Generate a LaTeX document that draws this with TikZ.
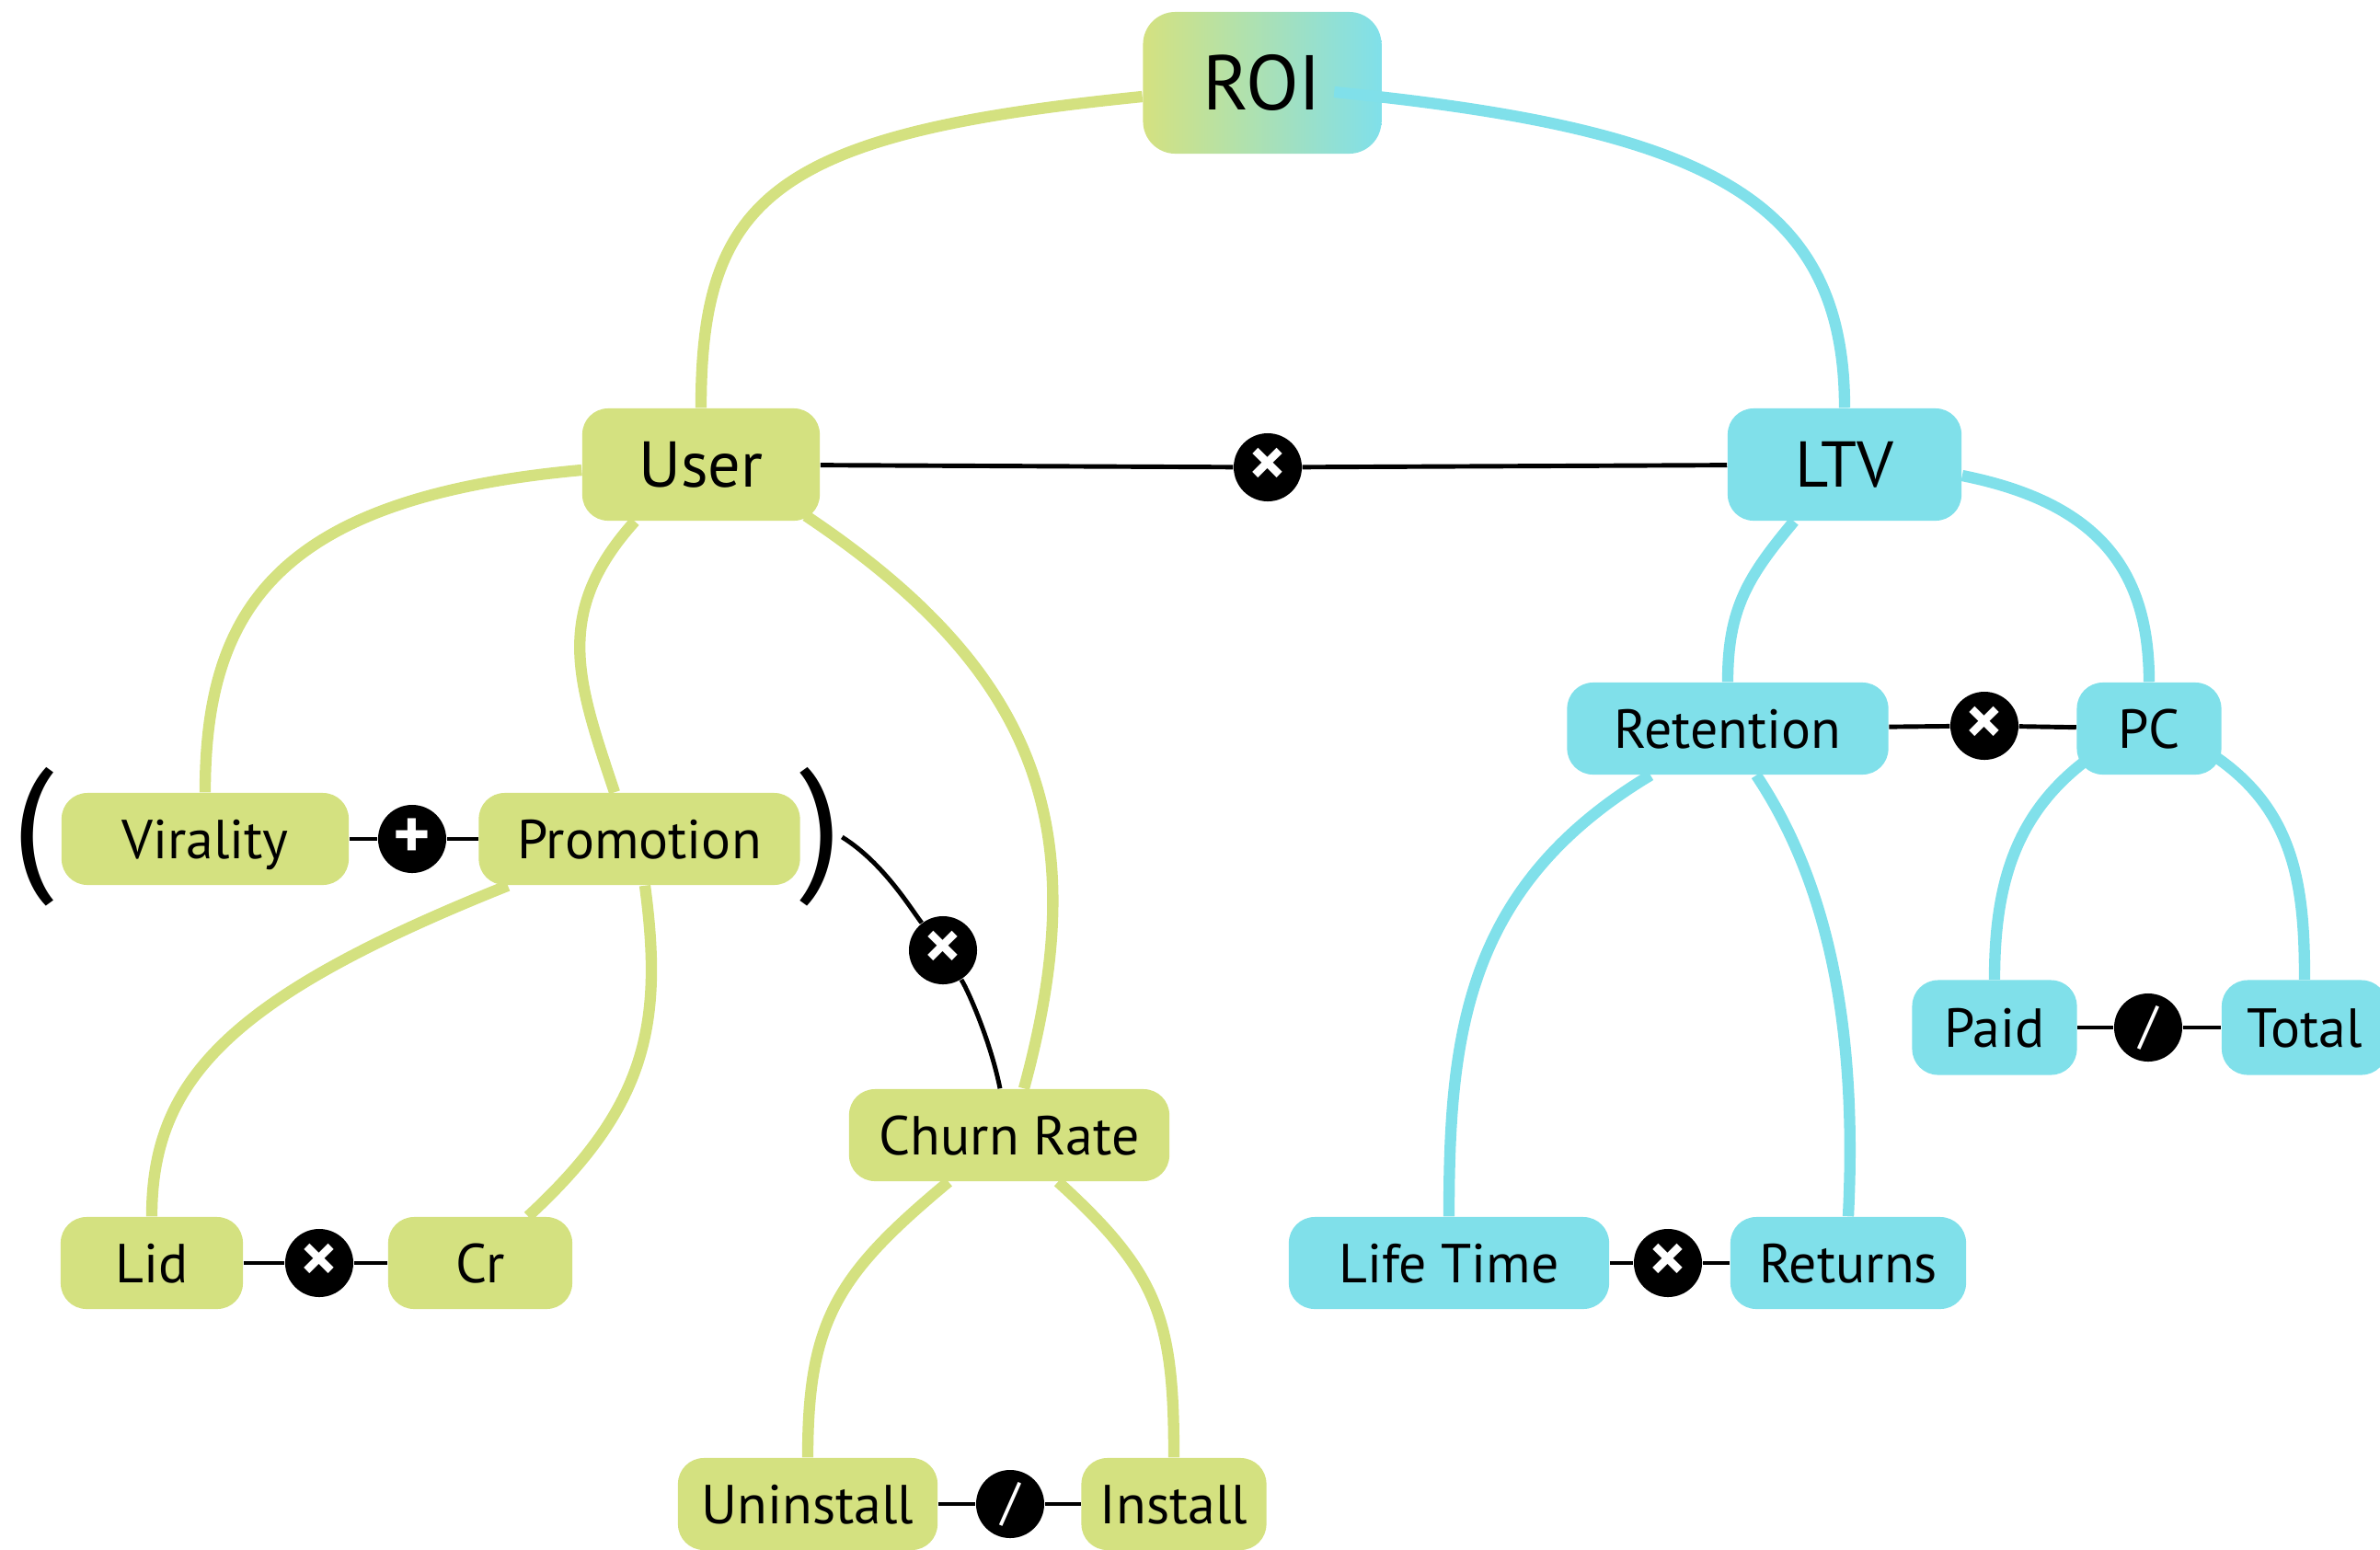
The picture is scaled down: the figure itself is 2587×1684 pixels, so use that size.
\documentclass[tikz,border=0pt]{standalone}
\usepackage{fontspec}
\setmainfont{PT Sans}
\usetikzlibrary{calc}

\definecolor{leafgreen}{RGB}{212,225,128}
\definecolor{leafcyan}{RGB}{128,224,234}
\tikzset{
    box/.style={rectangle, rounded corners=8pt, inner sep=0pt, minimum height=1cm,
        text height=12pt, text depth=0pt, font=\fontsize{17}{20}\selectfont},
    bigbox/.style={box, minimum height=1.22cm, text height=14pt, font=\fontsize{20}{24}\selectfont},
    greenbox/.style={box, fill=leafgreen},
    cyanbox/.style={box, fill=leafcyan},
    opdot/.style={circle, fill=black, text=white, inner sep=0pt, minimum size=0.74cm,
        font=\bfseries\fontsize{22}{22}\selectfont},
    slashdot/.style={opdot, font=\fontsize{16}{16}\selectfont},
    paren/.style={inner sep=0pt, font=\fontsize{46}{46}\selectfont},
    greenlink/.style={draw=leafgreen, line width=3.5pt},
    cyanlink/.style={draw=leafcyan, line width=3.5pt},
    oplink/.style={draw=black, line width=1.4pt},
}

\begin{document}
\begin{tikzpicture}[x=0.01cm, y=-0.01cm]
        \useasboundingbox (0,0) rectangle (2587,1684);

        % root and first level
        \node[box, left color=leafgreen, right color=leafcyan, minimum width=2.59cm, minimum height=1.54cm,
            rounded corners=10pt, text height=17pt, font=\fontsize{24}{28}\selectfont] (roi) at (1372,90) {ROI};
        \node[bigbox, fill=leafgreen, minimum width=2.58cm] (user) at (762,505) {User};
        \node[bigbox, fill=leafcyan, minimum width=2.54cm] (ltv) at (2005,505) {LTV};

        % green branch
        \node[greenbox, minimum width=3.12cm] (virality) at (223,912) {Virality};
        \node[greenbox, minimum width=3.49cm] (promotion) at (695,912) {Promotion};
        \node[paren] (lparen) at (36,910) {(};
        \node[paren] (rparen) at (892,910) {)};
        \node[greenbox, minimum width=3.48cm] (churn) at (1097,1234) {Churn Rate};
        \node[greenbox, minimum width=1.98cm] (lid) at (165,1373) {Lid};
        \node[greenbox, minimum width=2.00cm] (cr) at (522,1373) {Cr};
        \node[greenbox, minimum width=2.82cm] (uninstall) at (878,1635) {Uninstall};
        \node[greenbox, minimum width=2.01cm] (install) at (1276,1635) {Install};

        % cyan branch
        \node[cyanbox, minimum width=3.49cm] (retention) at (1878,792) {Retention};
        \node[cyanbox, minimum width=1.57cm] (pc) at (2336,792) {PC};
        \node[cyanbox, minimum width=3.48cm] (lifetime) at (1575,1373) {Life Time};
        \node[cyanbox, minimum width=2.56cm] (returns) at (2009,1373) {Returns};
        \node[cyanbox, minimum width=1.79cm, minimum height=1.03cm] (paid) at (2168,1117) {Paid};
        \node[cyanbox, minimum width=1.80cm, minimum height=1.03cm] (total) at (2505,1117) {Total};

        % operators
        \node[opdot] (opUL) at (1378,508) {×};
        \node[opdot] (opRP) at (2157,789) {×};
        \node[opdot] (opVP) at (448,912) {+};
        \node[opdot] (opPC) at (1025,1033) {×};
        \node[opdot] (opLC) at (347,1373) {×};
        \node[slashdot] (opUI) at (1098,1635) {/};
        \node[opdot] (opLR) at (1813,1373) {×};
        \node[slashdot] (opPT) at (2335,1117) {/};

        \draw[oplink] (user) -- (opUL) -- (ltv);
        \draw[oplink] (retention) -- (opRP) -- (pc);
        \draw[oplink] (virality) -- (opVP) -- (promotion);
        \draw[oplink] (lid) -- (opLC) -- (cr);
        \draw[oplink] (uninstall) -- (opUI) -- (install);
        \draw[oplink] (lifetime) -- (opLR) -- (returns);
        \draw[oplink] (paid) -- (opPT) -- (total);
        \draw[oplink] (rparen.east) .. controls +(45,28) and +(-35,-45) .. (opPC);
        \draw[oplink] (opPC) .. controls +(28,45) and +(-10,-50) .. ($(churn.north)+(-10,0)$);

        % tree links
        \draw[greenlink] ($(roi.west)+(0,15)$) .. controls +(-400,40) and +(0,-230) .. (user.north);
        \draw[cyanlink] ($(roi.east)+(-52,10)$) .. controls +(400,40) and +(0,-230) .. (ltv.north);
        \draw[greenlink] ($(user.west)+(0,6)$) .. controls +(-330,30) and +(0,-200) .. (virality.north);
        \draw[greenlink] ($(user.south)+(-72,0)$) .. controls +(-90,100) and +(-40,-120) .. ($(promotion.north)+(-27,0)$);
        \draw[greenlink] ($(user.south)+(114,-6)$) .. controls +(260,174) and +(75,-275) .. ($(churn.north)+(16,0)$);
        \draw[greenlink] ($(promotion.south)+(-143,0)$) .. controls +(-300,120) and +(0,-150) .. (lid.north);
        \draw[greenlink] ($(promotion.south)+(6,0)$) .. controls +(20,150) and +(130,-120) .. ($(cr.north)+(52,0)$);
        \draw[greenlink] ($(churn.south)+(-66,0)$) .. controls +(-120,100) and +(0,-150) .. (uninstall.north);
        \draw[greenlink] ($(churn.south)+(53,0)$) .. controls +(110,100) and +(0,-150) .. (install.north);
        \draw[cyanlink] ($(ltv.south)+(-55,0)$) .. controls +(-50,60) and +(0,-80) .. (retention.north);
        \draw[cyanlink] ($(ltv.east)+(0,12)$) .. controls +(150,30) and +(0,-120) .. (pc.north);
        \draw[cyanlink] ($(retention.south)+(-84,0)$) .. controls +(-200,120) and +(0,-200) .. (lifetime.north);
        \draw[cyanlink] ($(retention.south)+(31,0)$) .. controls +(80,120) and +(10,-200) .. (returns.north);
        \draw[cyanlink] ($(pc.south west)+(12,-17)$) .. controls +(-80,60) and +(0,-100) .. (paid.north);
        \draw[cyanlink] ($(pc.south east)+(-10,-22)$) .. controls +(90,60) and +(0,-100) .. (total.north);

    \end{tikzpicture}
\end{document}
